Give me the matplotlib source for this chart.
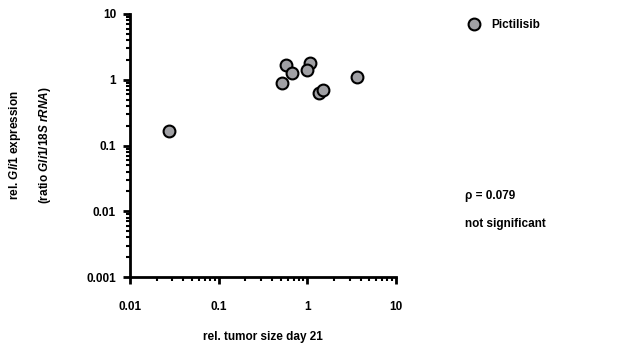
import matplotlib.pyplot as plt
from matplotlib.ticker import LogLocator, NullFormatter

plt.rcParams['font.family'] = ['Liberation Sans', 'DejaVu Sans']
plt.rcParams['font.weight'] = 'bold'
plt.rcParams['mathtext.fontset'] = 'custom'
plt.rcParams['mathtext.it'] = 'Liberation Sans:italic:bold'
plt.rcParams['mathtext.rm'] = 'Liberation Sans:bold'

# tumor size vs Gli1 expression, Pictilisib group
tumor_size = [0.0273, 0.513, 0.574, 0.67, 1.07, 0.98, 1.36, 1.51, 3.6]
gli1_expr = [0.169, 0.894, 1.70, 1.28, 1.78, 1.43, 0.637, 0.70, 1.11]

x_ticks = [0.01, 0.1, 1, 10]
x_ticklabels = ['0.01', '0.1', '1', '10']
y_ticks = [0.001, 0.01, 0.1, 1, 10]
y_ticklabels = ['0.001', '0.01', '0.1', '1', '10']

rho_text = 'ρ = 0.079'
sig_text = 'not significant'

fs = 8.5

fig = plt.figure(figsize=(6.27, 3.51), dpi=100)
ax = fig.add_axes([130/627, 74/351, 266/627, 263/351])

ax.plot(tumor_size, gli1_expr, 'o', ms=8.5, mfc='#a0a0a4', mec='black',
        mew=1.5, label='Pictilisib', clip_on=False)

ax.set_xscale('log')
ax.set_yscale('log')
ax.set_xlim(0.01, 10)
ax.set_ylim(0.001, 10)
ax.set_xticks(x_ticks)
ax.set_xticklabels(x_ticklabels)
ax.set_yticks(y_ticks)
ax.set_yticklabels(y_ticklabels)
ax.xaxis.set_minor_locator(LogLocator(base=10, subs=range(2, 10)))
ax.yaxis.set_minor_locator(LogLocator(base=10, subs=range(2, 10)))
ax.xaxis.set_minor_formatter(NullFormatter())
ax.yaxis.set_minor_formatter(NullFormatter())

for side in ['top', 'right']:
    ax.spines[side].set_visible(False)
for side in ['left', 'bottom']:
    ax.spines[side].set_linewidth(2)
ax.tick_params(which='major', length=5, width=2, labelsize=fs, pad=5)
ax.tick_params(which='minor', length=3, width=1.5)
ax.tick_params(axis='x', pad=12)

ax.set_xlabel('rel. tumor size day 21', fontsize=fs, fontweight='bold', labelpad=13)
ax.set_ylabel('rel. $\\it{Gli1}$ expression\n(ratio $\\it{Gli1/18S}$ $\\it{rRNA}$)',
              fontsize=fs, fontweight='bold', labelpad=24, linespacing=2.3)

ax.legend(loc='upper left', bbox_to_anchor=(463/627, 1 - 14/351),
          bbox_transform=fig.transFigure, frameon=False, fontsize=fs,
          handletextpad=1.0, borderaxespad=0, handlelength=1)

fig.text(465/627, 1 - 196/351, rho_text, fontsize=fs, fontweight='bold', va='center')
fig.text(465/627, 1 - 224/351, sig_text, fontsize=fs, fontweight='bold', va='center')

fig.savefig('out.png', dpi=100)
